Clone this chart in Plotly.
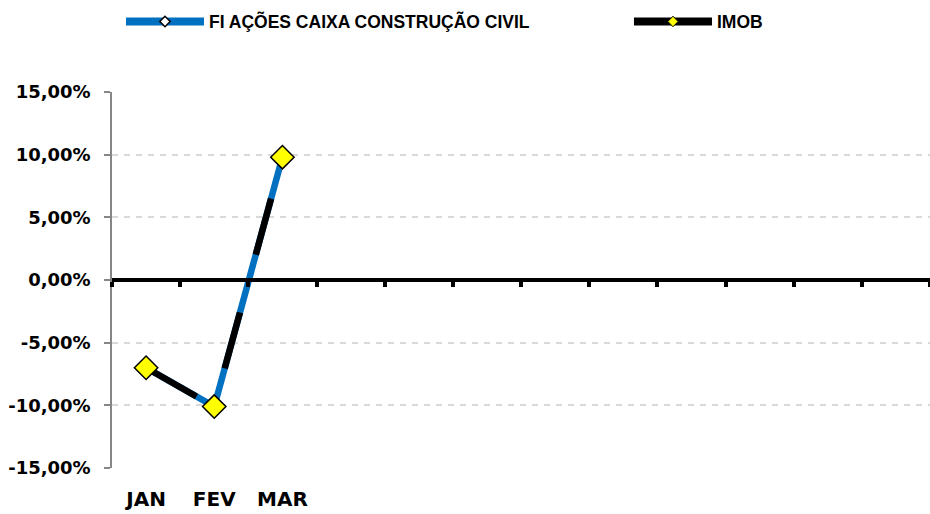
import plotly.graph_objects as go

months = ["JAN", "FEV", "MAR", "ABR", "MAI", "JUN", "JUL", "AGO", "SET", "OUT", "NOV", "DEZ"]
shown_labels = ["JAN", "FEV", "MAR"]
fund_name = "FI AÇÕES CAIXA CONSTRUÇÃO CIVIL"
index_name = "IMOB"
fund_values = [-7.0, -10.1, 9.8]      # % monthly return
imob_values = [-7.0, -10.1, 9.8]      # %
y_ticks = [-15, -10, -5, 0, 5, 10, 15]
y_tick_text = ["-15,00%", "-10,00%", "-5,00%", "0,00%", "5,00%", "10,00%", "15,00%"]

x_idx = list(range(len(fund_values)))
n_cat = len(months)
boundaries = [i - 0.5 for i in range(n_cat + 1)]

Y_FONT = dict(family="DejaVu Sans", size=18, color="black", weight="bold")
X_FONT = dict(family="DejaVu Sans", size=20, color="black", weight="bold")
LEG_FONT = dict(family="Liberation Sans", size=17.5, color="black", weight="bold")

fig = go.Figure()
# chart traces
fig.add_trace(go.Scatter(
    x=x_idx, y=fund_values, mode="lines+markers", showlegend=False,
    line=dict(color="#0070C0", width=6.5),
    marker=dict(symbol="diamond", size=9, color="white", line=dict(color="black", width=1.5)),
))
fig.add_trace(go.Scatter(
    x=x_idx, y=imob_values, mode="lines+markers", showlegend=False,
    xaxis="x2", yaxis="y",
    line=dict(color="black", width=6.5, dash="58px,60px"),
    marker=dict(symbol="diamond", size=18, color="#FFFF00", line=dict(color="black", width=1.5)),
))
# legend-only entries
fig.add_trace(go.Scatter(
    x=[None], y=[None], mode="lines+markers", name=fund_name, legend="legend",
    line=dict(color="#0070C0", width=8),
    marker=dict(symbol="diamond", size=8, color="white", line=dict(color="black", width=1.5)),
))
fig.add_trace(go.Scatter(
    x=[None], y=[None], mode="lines+markers", name=index_name, legend="legend2",
    line=dict(color="black", width=8),
    marker=dict(symbol="diamond", size=8, color="#FFFF00", line=dict(color="black", width=1)),
))

leg_common = dict(orientation="h", y=1.235, xanchor="left", yanchor="top",
                  font=LEG_FONT, itemwidth=78, bgcolor="rgba(0,0,0,0)")

fig.update_layout(
    width=930, height=514,
    margin=dict(l=112, r=0, t=92, b=46, autoexpand=False),
    plot_bgcolor="white", paper_bgcolor="white",
    font=dict(family="DejaVu Sans", color="black"),
    showlegend=True,
    legend=dict(leg_common, x=0.011),
    legend2=dict(leg_common, x=0.632),
    xaxis=dict(
        range=[-0.5, n_cat - 0.5], automargin=False,
        tickmode="array", tickvals=list(range(len(shown_labels))), ticktext=shown_labels,
        showgrid=False, zeroline=False, showline=False, ticks="",
        tickfont=X_FONT, ticklabelstandoff=17,
    ),
    xaxis2=dict(
        overlaying="x", anchor="free", position=0.5, side="bottom", automargin=False,
        range=[-0.5, n_cat - 0.5],
        tickmode="array", tickvals=boundaries, showticklabels=False,
        ticks="outside", ticklen=5, tickwidth=4, tickcolor="black",
        showline=True, linewidth=4, linecolor="black",
        showgrid=False, zeroline=False,
    ),
    yaxis=dict(
        range=[-15, 15], automargin=False,
        tickmode="array", tickvals=y_ticks, ticktext=y_tick_text,
        showline=True, linecolor="#868686", linewidth=1.5,
        ticks="outside", ticklen=6, tickcolor="#868686", tickwidth=1.5,
        showgrid=True, gridcolor="#D9D9D9", gridwidth=1.5, griddash="6px,6px",
        zeroline=False,
        tickfont=Y_FONT, ticklabelstandoff=10,
    ),
)

fig.write_html(
    "out.html",
    config={"displayModeBar": False},
    post_script="document.body.style.margin='0';document.body.style.overflow='hidden';",
)
